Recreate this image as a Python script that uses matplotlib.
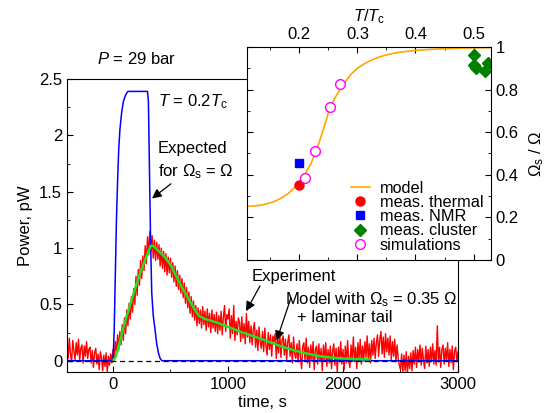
import numpy as np
import matplotlib
matplotlib.use('Agg')
import matplotlib.pyplot as plt
from matplotlib.ticker import MultipleLocator

plt.rcParams['font.family'] = ['Liberation Sans', 'DejaVu Sans']
plt.rcParams['mathtext.fontset'] = 'custom'
plt.rcParams['mathtext.rm'] = 'Liberation Sans'
plt.rcParams['mathtext.it'] = 'Liberation Sans:italic'
plt.rcParams['font.size'] = 12

# measured power trace, 10 s sampling from -400 s to 3000 s
time_start, time_step = -400, 10
power_exp = [
    0.15, 0.02, 0.20, 0.06, -0.01, 0.18, 0.09, 0.01, 0.16, 0.05,
    0.19, 0.00, 0.11, 0.14, -0.02, 0.13, 0.04, 0.17, 0.02, 0.10,
    0.12, -0.02, 0.09, -0.06, 0.07, 0.11, -0.03, 0.06, -0.08, 0.08,
    0.03, -0.09, 0.05, -0.05, 0.07, -0.10, 0.04, -0.04, 0.06, -0.02,
    0.10, 0.01, 0.17, 0.07, 0.23, 0.10, 0.26, 0.14, 0.32, 0.18,
    0.38, 0.24, 0.45, 0.31, 0.51, 0.37, 0.57, 0.43, 0.64, 0.50,
    0.75, 0.58, 0.81, 0.67, 0.89, 0.73, 0.93, 0.80, 1.02, 0.86,
    1.10, 0.94, 1.15, 0.97, 1.11, 0.91, 1.07, 0.89, 1.05, 0.90,
    1.03, 0.84, 1.00, 0.82, 0.97, 0.79, 0.95, 0.76, 0.92, 0.78,
    0.91, 0.74, 0.87, 0.70, 0.84, 0.66, 0.80, 0.63, 0.76, 0.60,
    0.73, 0.56, 0.69, 0.51, 0.65, 0.47, 0.61, 0.42, 0.57, 0.39,
    0.53, 0.36, 0.49, 0.31, 0.47, 0.33, 0.45, 0.29, 0.48, 0.32,
    0.44, 0.27, 0.46, 0.30, 0.42, 0.25, 0.45, 0.29, 0.41, 0.26,
    0.43, 0.24, 0.40, 0.27, 0.44, 0.23, 0.39, 0.49, 0.26, 0.41,
    0.37, 0.46, 0.20, 0.40, 0.24, 0.49, 0.18, 0.35, 0.23, 0.38,
    0.34, 0.17, 0.39, 0.20, 0.33, 0.15, 0.42, 0.21, 0.35, 0.16,
    0.31, 0.14, 0.28, 0.34, 0.12, 0.27, 0.09, 0.30, 0.16, 0.11,
    0.26, 0.08, 0.29, 0.13, 0.05, 0.25, 0.10, 0.23, 0.04, 0.22,
    0.17, 0.24, 0.02, 0.20, 0.07, 0.26, 0.03, 0.18, 0.22, 0.05,
    0.19, 0.01, 0.17, 0.23, 0.04, 0.16, -0.02, 0.21, 0.06, 0.02,
    0.15, -0.01, 0.18, 0.03, -0.07, 0.13, 0.16, 0.00, 0.20, -0.02,
    0.12, -0.06, 0.14, 0.01, 0.17, -0.08, 0.10, 0.13, -0.03, 0.15,
    -0.01, 0.11, -0.09, 0.14, 0.00, 0.16, -0.05, 0.10, -0.02, 0.13,
    -0.07, 0.09, 0.15, -0.04, 0.11, -0.10, 0.12, -0.01, 0.17, -0.03,
    0.10, -0.08, 0.13, -0.02, 0.18, 0.00, -0.06, 0.14, 0.01, 0.21,
    -0.01, 0.12, -0.07, 0.16, 0.02, 0.19, -0.03, 0.13, 0.00, 0.17,
    0.03, 0.22, 0.01, 0.15, -0.02, 0.18, 0.05, 0.20, 0.02, 0.16,
    0.23, 0.04, 0.19, 0.26, 0.06, 0.21, 0.03, 0.24, 0.08, 0.20,
    0.05, 0.22, 0.01, 0.17, 0.04, 0.19, -0.01, 0.14, 0.02, -0.04,
    -0.08, 0.06, -0.10, 0.05, -0.09, 0.08, -0.11, 0.04, -0.07, 0.07,
    -0.09, 0.09, -0.03, 0.12, -0.06, 0.10, -0.01, 0.14, -0.04, 0.11,
    0.00, -0.07, 0.13, -0.02, 0.10, -0.05, 0.12, -0.01, 0.15, -0.03,
    0.09, -0.04, 0.31, -0.01, 0.12, -0.06, 0.10, 0.14, -0.03, 0.11,
    0.00, 0.16, -0.05, 0.10, -0.02, 0.13, -0.08, 0.09, 0.12, -0.01,
    0.08,
]
time_exp = time_start + time_step * np.arange(len(power_exp))

# expected signal for Omega_s = Omega
time_full = [-400, 0, 10, 20, 30, 40, 50, 60, 75, 90, 110, 130, 300, 308, 314,
             320, 328, 337, 350, 365, 380, 395, 410, 425, 3000]
power_full = [0, 0, 0.25, 0.75, 1.25, 1.6, 1.88, 2.05, 2.2, 2.3, 2.36, 2.39, 2.39, 2.3, 1.9,
              1.5, 1.0, 0.6, 0.4, 0.28, 0.15, 0.07, 0.02, 0, 0]

# model with Omega_s = 0.35 Omega + laminar tail
time_model = [0, 20, 40, 60, 90, 120, 150, 190, 230, 270, 300, 330, 350, 380, 450, 500,
              600, 700, 745, 800, 900, 1000, 1100, 1200, 1300, 1400, 1500, 1600, 1700,
              1800, 1900, 2000, 2100, 2230]
power_model = [0, 0.03, 0.09, 0.17, 0.29, 0.40, 0.50, 0.63, 0.76, 0.87, 0.95, 1.02, 1.02,
               0.99, 0.92, 0.85, 0.65, 0.47, 0.40, 0.37, 0.34, 0.30, 0.26, 0.225, 0.19,
               0.15, 0.115, 0.085, 0.06, 0.04, 0.028, 0.02, 0.014, 0.01]

# inset: Omega_s / Omega vs T/Tc
t_curve = [0.11, 0.12, 0.13, 0.14, 0.15, 0.16, 0.17, 0.18, 0.19, 0.20, 0.21, 0.22, 0.23,
           0.24, 0.25, 0.26, 0.27, 0.28, 0.29, 0.30, 0.31, 0.32, 0.33, 0.34, 0.35, 0.36,
           0.37, 0.38, 0.39, 0.40, 0.42, 0.44, 0.46, 0.48, 0.50, 0.53]
ratio_curve = [0.252, 0.253, 0.256, 0.261, 0.268, 0.278, 0.292, 0.310, 0.335, 0.367, 0.405,
               0.452, 0.520, 0.600, 0.690, 0.755, 0.800, 0.840, 0.875, 0.900, 0.918, 0.933,
               0.945, 0.955, 0.963, 0.969, 0.974, 0.978, 0.981, 0.984, 0.988, 0.991, 0.993,
               0.995, 0.996, 0.997]
t_thermal, ratio_thermal = [0.2], [0.352]
t_nmr, ratio_nmr = [0.2], [0.454]
t_cluster = [0.500, 0.501, 0.505, 0.520, 0.525]
ratio_cluster = [0.962, 0.915, 0.901, 0.887, 0.926]
t_sim = [0.210, 0.227, 0.252, 0.270]
ratio_sim = [0.383, 0.513, 0.717, 0.826]


fig = plt.figure(figsize=(5.51, 4.13), dpi=100)
ax = fig.add_axes([0.1216, 0.0993, 0.7096, 0.7094])

ax.plot(time_exp, power_exp, color='#ff0000', lw=1.0)
ax.plot(time_full, power_full, color='#0000ff', lw=1.1)
ax.plot(time_model, power_model, color='#22e022', lw=1.8)
ax.axhline(0, color='black', lw=0.9, ls=(0, (4, 3)))

ax.set_xlim(-400, 3000)
ax.set_ylim(-0.1, 2.5)
ax.xaxis.set_major_locator(MultipleLocator(1000))
ax.xaxis.set_minor_locator(MultipleLocator(500))
ax.yaxis.set_major_locator(MultipleLocator(0.5))
ax.yaxis.set_minor_locator(MultipleLocator(0.25))
ax.yaxis.set_major_formatter(plt.FuncFormatter(lambda v, p: '%g' % v))
ax.tick_params(which='both', direction='in')
ax.tick_params(which='major', length=4)
ax.tick_params(which='minor', length=2.5)
ax.set_xlabel('time, s', labelpad=2)
ax.set_ylabel('Power, pW', labelpad=4)

ax.text(200, 2.68, '$P$ = 29 bar', ha='center', va='center', fontsize=12, clip_on=False)
ax.text(391, 2.30, '$T$ = 0.2$T_\\mathrm{c}$', ha='left', va='center', fontsize=12)
ax.text(391, 1.88, 'Expected', ha='left', va='center', fontsize=12)
ax.text(391, 1.68, 'for Ω$_\\mathrm{s}$ = Ω', ha='left', va='center', fontsize=12)
ax.text(1209, 0.75, 'Experiment', ha='left', va='center', fontsize=12)
ax.text(1496, 0.545, 'Model with Ω$_\\mathrm{s}$ = 0.35 Ω', ha='left', va='center', fontsize=12)
ax.text(2017, 0.38, '+ laminar tail', ha='center', va='center', fontsize=12)

arrow = dict(arrowstyle='-|>', color='black', lw=0.9, mutation_scale=14, shrinkA=0, shrinkB=0)
ax.annotate('', xy=(339, 1.44), xytext=(504, 1.57), arrowprops=arrow)
ax.annotate('', xy=(1157, 0.44), xytext=(1278, 0.663), arrowprops=arrow)
ax.annotate('', xy=(1423, 0.18), xytext=(1548, 0.56), arrowprops=arrow)

# inset
ins = fig.add_axes([0.4483, 0.3705, 0.4428, 0.5157])
ins.plot(t_curve, ratio_curve, color='#ffa500', lw=1.2, label='model')
ins.plot(t_thermal, ratio_thermal, 'o', color='#ff0000', ms=6.5, label='meas. thermal')
ins.plot(t_nmr, ratio_nmr, 's', color='#0000ff', ms=5.5, label='meas. NMR')
ins.plot(t_cluster, ratio_cluster, 'D', color='#008000', ms=6, label='meas. cluster')
ins.plot(t_sim, ratio_sim, 'o', mfc='white', mec='#ff00ff', mew=1, ms=7, label='simulations')

ins.set_xlim(0.11, 0.53)
ins.set_ylim(0, 1)
ins.xaxis.set_major_locator(MultipleLocator(0.1))
ins.xaxis.set_minor_locator(MultipleLocator(0.05))
ins.yaxis.set_major_locator(MultipleLocator(0.2))
ins.yaxis.set_minor_locator(MultipleLocator(0.1))
ins.yaxis.set_major_formatter(plt.FuncFormatter(lambda v, p: '%g' % round(v, 2)))
ins.tick_params(which='both', direction='in', top=True, bottom=True, left=True, right=True,
                labeltop=True, labelbottom=False, labelleft=False, labelright=True)
ins.tick_params(which='major', length=4)
ins.tick_params(which='minor', length=2.5)
ins.xaxis.set_label_position('top')
ins.yaxis.set_label_position('right')
ins.set_xlabel('$T$/$T_\\mathrm{c}$', labelpad=4)
ins.set_ylabel('Ω$_\\mathrm{s}$ / Ω', labelpad=6)

ins.legend(loc='lower left', bbox_to_anchor=(0.425, 0.035), frameon=False, fontsize=11.7,
           borderpad=0, borderaxespad=0, handlelength=1.2, handletextpad=0.6,
           labelspacing=-0.05, numpoints=1)

fig.savefig('out.png', dpi=100)
